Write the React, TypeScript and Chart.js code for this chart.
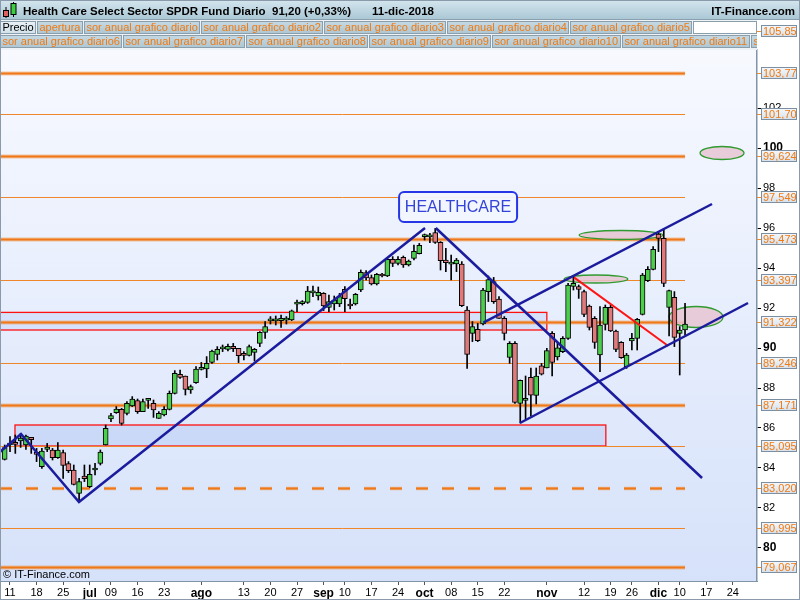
import React, { useEffect, useRef } from "react";
import { Chart, registerables } from "chart.js";

Chart.register(...registerables);

// ---------- data ----------
const FIRST_INDEX = -1; // trading-day index of first candle (8 jun 2018); 0 = 11 jun
const opens = [
  84.43, 85.15, 85.25, 85.35, 85.15, 85.53, 84.70, 84.07, 84.93, 84.90, 84.52, 84.77, 84.22, 83.90, 82.73, 83.60, 83.07, 83.90, 84.23, 85.15,
  86.45, 86.77, 86.93, 86.73, 87.10, 87.37, 86.82, 87.38, 87.23, 86.48, 86.65, 86.93, 87.73, 88.68, 88.60, 87.90, 88.27, 88.93, 88.95, 89.28,
  89.68, 89.96, 89.93, 90.08, 89.98, 89.73, 89.63, 89.78, 90.23, 90.78, 91.36, 91.36, 91.37, 91.39, 91.40, 92.19, 92.22, 92.28, 92.76, 92.60,
  92.73, 92.03, 92.20, 92.20, 92.93, 92.20, 92.20, 92.90, 93.77, 93.52, 93.20, 93.68, 93.60, 94.43, 94.23, 94.53, 94.15, 94.48, 94.72, 95.57,
  95.56, 95.77, 95.28, 94.40, 94.19, 94.20, 94.20, 91.90, 90.73, 90.93, 91.20, 92.82, 93.32, 92.45, 91.48, 89.53, 90.23, 87.23, 87.38, 88.53,
  87.63, 89.11, 89.01, 90.73, 89.55, 89.82, 90.48, 93.08, 93.07, 92.82, 92.10, 91.48, 89.65, 91.18, 92.03, 90.85, 90.28, 89.07, 90.35, 90.48,
  91.68, 93.37, 93.93, 95.70, 95.48, 92.03, 92.53, 90.73, 90.90,
];
const highs = [
  85.15, 85.57, 85.65, 85.73, 85.65, 85.53, 84.98, 84.98, 85.23, 84.98, 85.27, 84.90, 84.32, 84.15, 83.48, 84.15, 84.15, 84.23, 84.90, 86.15,
  86.73, 87.07, 86.98, 87.32, 87.57, 87.45, 87.45, 87.48, 87.40, 86.82, 87.07, 87.85, 88.87, 88.90, 88.60, 88.15, 89.07, 89.28, 89.57, 89.90,
  90.07, 90.15, 90.20, 90.23, 89.98, 89.82, 90.15, 89.98, 90.82, 91.32, 91.57, 91.60, 91.65, 91.57, 91.90, 92.40, 92.37, 93.08, 93.10, 93.05,
  92.77, 92.65, 92.60, 92.73, 93.07, 92.45, 92.73, 93.90, 93.87, 93.65, 93.73, 93.73, 94.48, 94.57, 94.57, 94.60, 94.40, 95.15, 95.23, 95.70,
  95.73, 95.98, 95.32, 94.98, 94.65, 94.48, 94.32, 92.07, 91.32, 91.23, 92.98, 93.60, 93.53, 92.57, 91.57, 90.32, 90.32, 88.40, 88.60, 89.00,
  89.00, 89.23, 89.98, 90.82, 90.23, 90.57, 93.23, 93.57, 93.15, 92.90, 92.15, 91.57, 92.07, 92.15, 92.15, 90.90, 90.32, 89.73, 90.73, 91.48,
  93.73, 94.07, 95.07, 95.82, 95.98, 92.90, 92.82, 91.07, 92.23,
];
const lows = [
  84.40, 84.82, 84.73, 85.03, 84.93, 84.73, 84.32, 83.98, 84.82, 84.40, 84.48, 83.48, 83.77, 83.15, 82.32, 83.32, 83.02, 83.65, 84.15, 85.15,
  86.32, 86.73, 86.15, 86.65, 87.07, 86.73, 86.82, 86.98, 86.53, 86.48, 86.60, 86.90, 87.70, 88.48, 87.65, 87.73, 88.23, 88.90, 88.52, 89.23,
  89.40, 89.82, 89.85, 89.82, 89.27, 89.40, 89.60, 89.35, 90.07, 90.48, 91.20, 91.15, 91.03, 91.20, 91.37, 91.82, 92.15, 92.23, 92.57, 92.40,
  91.87, 91.82, 91.90, 92.07, 91.82, 91.95, 92.15, 92.82, 93.40, 93.15, 93.15, 93.55, 93.57, 94.07, 94.15, 94.03, 94.10, 94.40, 94.70, 95.40,
  95.27, 95.23, 93.90, 93.82, 93.40, 93.82, 92.07, 88.98, 90.32, 90.32, 91.15, 92.32, 92.23, 91.48, 90.40, 89.23, 87.23, 86.25, 86.45, 86.60,
  87.20, 88.65, 89.00, 88.60, 89.40, 89.77, 90.43, 92.90, 92.48, 91.57, 90.90, 89.98, 88.82, 90.90, 90.82, 89.82, 89.48, 88.98, 89.90, 89.90,
  91.65, 93.32, 93.90, 94.82, 93.07, 90.60, 90.07, 88.65, 90.65,
];
const closes = [
  85.02, 85.20, 85.18, 85.50, 85.60, 85.42, 84.68, 84.85, 85.05, 84.52, 84.90, 84.13, 83.87, 83.18, 83.32, 83.47, 83.68, 83.95, 84.80, 85.98,
  86.62, 86.95, 86.23, 87.23, 87.45, 86.82, 87.32, 87.42, 86.90, 86.73, 86.93, 87.73, 88.73, 88.53, 87.93, 88.07, 88.95, 88.97, 89.23, 89.85,
  89.93, 89.98, 90.08, 89.97, 89.62, 89.63, 90.07, 89.93, 90.78, 91.07, 91.38, 91.38, 91.48, 91.41, 91.86, 92.21, 92.25, 92.85, 92.78, 92.78,
  92.10, 92.32, 92.40, 92.57, 92.47, 92.10, 92.68, 93.78, 93.50, 93.20, 93.68, 93.60, 94.43, 94.23, 94.43, 94.15, 94.35, 94.83, 95.13, 95.65,
  95.58, 95.28, 94.37, 94.27, 94.21, 94.40, 92.12, 89.68, 91.07, 90.37, 92.90, 93.42, 92.32, 91.48, 90.73, 90.23, 87.28, 88.38, 87.42, 87.64,
  88.60, 88.69, 89.87, 89.28, 90.01, 90.48, 93.15, 93.23, 92.93, 91.68, 91.03, 90.28, 91.15, 92.03, 90.85, 89.93, 89.52, 89.65, 90.48, 91.43,
  93.65, 93.93, 94.93, 95.48, 93.23, 92.87, 90.53, 90.90, 91.20,
];

const xTickIndex = [0, 5, 10, 15, 19, 24, 29, 36, 44, 49, 54, 59, 63, 68, 73, 78, 83, 88, 93, 101, 108, 113, 117, 122, 126, 131, 136];
const xTickLabels = ["11", "18", "25", "jul", "09", "16", "23", "ago", "13", "20", "27", "sep", "10", "17", "24", "oct", "08", "15", "22", "nov", "12", "19", "26", "dic", "10", "17", "24"];
const monthLabels = ["jul", "ago", "sep", "oct", "nov", "dic"];
const yTicks = [80, 82, 84, 86, 88, 90, 92, 94, 96, 98, 100, 102];

const levelValues = [105.85, 103.77, 101.7, 99.624, 97.549, 95.473, 93.397, 91.322, 89.246, 87.171, 85.095, 83.02, 80.995, 79.067];
const levelLabels = ["105,85", "103,77", "101,70", "99,624", "97,549", "95,473", "93,397", "91,322", "89,246", "87,171", "85,095", "83,020", "80,995", "79,067"];
const levelKinds = ["thin", "thick", "thin", "thick", "thin", "thick", "thin", "thick", "thin", "thick", "thin", "dash", "thin", "thick"];
const LEVEL_END = 127;

// drawings in (trading-day index, price)
const trendZigzag = [[-1.9, 84.8], [2.07, 85.7], [12.98, 82.3], [78.08, 96.0]];
const trendDown = [[80.1, 96.0], [130.2, 83.5]];
const channelTop = [[89.05, 91.27], [132.08, 97.2]];
const channelBottom = [[95.95, 86.25], [138.85, 92.25]];
const redTrend = [[106.1, 93.53], [123.86, 90.1]];
const zoneA = [-5, 101.0, 90.9, 91.78];
const zoneB = [0.94, 112.1, 85.1, 86.15];
const ellipseCx = [133.96, 114.96, 110.25, 129.07];
const ellipseCy = [99.75, 95.65, 93.45, 91.55];
const ellipseRx = [4.14, 7.9, 6.0, 5.08];
const ellipseRy = [0.325, 0.225, 0.2, 0.525];
const noteText = "HEALTHCARE";
const notePos = [84.3, 97.05];

const titleParts = ["Health Care Select Sector SPDR Fund", "Diario", "91,20 (+0,33%)", "11-dic-2018"];
const legendRow1 = ["Precio", "apertura", "sor anual grafico diario", "sor anual grafico diario2", "sor anual grafico diario3", "sor anual grafico diario4", "sor anual grafico diario5"];
const legendRow2 = ["sor anual grafico diario6", "sor anual grafico diario7", "sor anual grafico diario8", "sor anual grafico diario9", "sor anual grafico diario10", "sor anual grafico diario11", "sor anual grafico diario12"];

// ---------- styling ----------
const FONT = '"Liberation Sans", Arial, Helvetica, sans-serif';
const ORANGE = "#f07a12";
const NAVY = "#1b1b9e";

function drawLegendRow(ctx: CanvasRenderingContext2D, items: string[], top: number, h: number, maxX: number, first: boolean) {
  ctx.save();
  ctx.beginPath();
  ctx.rect(0, top, maxX, h);
  ctx.clip();
  ctx.font = `11px ${FONT}`;
  ctx.textBaseline = "alphabetic";
  let x = 0;
  items.forEach((label, k) => {
    const w = Math.round(ctx.measureText(label).width) + 5;
    const isPrecio = first && k === 0;
    const g = ctx.createLinearGradient(0, top, 0, top + h);
    g.addColorStop(0, isPrecio ? "#e8f1f6" : "#c6dae4");
    g.addColorStop(1, isPrecio ? "#d2e2ea" : "#adc6d2");
    ctx.fillStyle = g;
    ctx.fillRect(x, top, w, h);
    ctx.strokeStyle = "#8a9eac";
    ctx.lineWidth = 1;
    ctx.strokeRect(x + 0.5, top + 0.5, w - 1, h - 1);
    ctx.fillStyle = isPrecio ? "#000" : ORANGE;
    ctx.fillText(label, x + 2.5, top + h - 3.5);
    x += w + 1;
  });
  if (first && x < maxX) {
    ctx.fillStyle = "#ffffff";
    ctx.fillRect(x, top, maxX - x, h);
    ctx.strokeStyle = "#8a9eac";
    ctx.strokeRect(x + 0.5, top + 0.5, maxX - x - 1, h - 1);
  }
  ctx.restore();
}

const decor = {
  id: "decor",
  beforeDraw(chart: any) {
    const { ctx, chartArea: a } = chart;
    ctx.save();
    ctx.fillStyle = "#ffffff";
    ctx.fillRect(0, 0, chart.width, chart.height);
    const g = ctx.createLinearGradient(0, a.top, 0, a.bottom);
    g.addColorStop(0, "#f7f9ff");
    g.addColorStop(1, "#d6e2fa");
    ctx.fillStyle = g;
    ctx.fillRect(a.left, a.top, a.right - a.left, a.bottom - a.top);
    ctx.restore();
  },
  beforeDatasetsDraw(chart: any) {
    const { ctx, chartArea: a } = chart;
    const xs = chart.scales.x;
    const ys = chart.scales.y;
    ctx.save();
    ctx.beginPath();
    ctx.rect(a.left, a.top, a.right - a.left, a.bottom - a.top);
    ctx.clip();
    // zones
    [zoneA, zoneB].forEach((z, k) => {
      const x0 = xs.getPixelForValue(z[0]);
      const x1 = xs.getPixelForValue(z[1]);
      const y0 = ys.getPixelForValue(z[3]);
      const y1 = ys.getPixelForValue(z[2]);
      ctx.fillStyle = k === 0 ? "rgba(200,215,250,0.55)" : "rgba(200,214,248,0.85)";
      ctx.fillRect(x0, y0, x1 - x0, y1 - y0);
      ctx.strokeStyle = "#ff1010";
      ctx.lineWidth = 1.3;
      ctx.strokeRect(x0, y0, x1 - x0, y1 - y0);
    });
    // levels
    const xl0 = a.left;
    const xl1 = xs.getPixelForValue(LEVEL_END);
    levelValues.forEach((v, k) => {
      const yy = Math.round(ys.getPixelForValue(v)) + 0.5;
      const kind = levelKinds[k];
      ctx.beginPath();
      ctx.moveTo(xl0, yy);
      ctx.lineTo(xl1, yy);
      if (kind === "thin") {
        ctx.strokeStyle = "#f0862a";
        ctx.lineWidth = 1;
        ctx.stroke();
      } else if (kind === "thick") {
        ctx.strokeStyle = "rgba(240,140,50,0.45)";
        ctx.lineWidth = 4;
        ctx.stroke();
        ctx.strokeStyle = "#f07818";
        ctx.lineWidth = 2;
        ctx.stroke();
      } else {
        ctx.setLineDash([12, 14]);
        ctx.strokeStyle = "rgba(240,140,50,0.5)";
        ctx.lineWidth = 3.5;
        ctx.stroke();
        ctx.strokeStyle = "#f07818";
        ctx.lineWidth = 2;
        ctx.stroke();
        ctx.setLineDash([]);
      }
    });
    // ellipses
    ellipseCx.forEach((cx, k) => {
      const px = xs.getPixelForValue(cx);
      const py = ys.getPixelForValue(ellipseCy[k]);
      const rx = Math.abs(xs.getPixelForValue(cx + ellipseRx[k]) - px);
      const ry = Math.abs(ys.getPixelForValue(ellipseCy[k] + ellipseRy[k]) - py);
      ctx.beginPath();
      ctx.ellipse(px, py, rx, ry, 0, 0, Math.PI * 2);
      ctx.fillStyle = "rgba(230,196,210,0.85)";
      ctx.fill();
      ctx.strokeStyle = "#2f9a2f";
      ctx.lineWidth = 1.3;
      ctx.stroke();
    });
    ctx.restore();
  },
  afterDatasetsDraw(chart: any) {
    const { ctx } = chart;
    const xs = chart.scales.x;
    const ys = chart.scales.y;
    const cx = xs.getPixelForValue(notePos[0]);
    const cy = ys.getPixelForValue(notePos[1]);
    const w = 118;
    const h = 30;
    ctx.save();
    ctx.beginPath();
    (ctx as any).roundRect(cx - w / 2, cy - h / 2, w, h, 5);
    ctx.fillStyle = "rgba(242,246,255,0.95)";
    ctx.fill();
    ctx.strokeStyle = "#2636e6";
    ctx.lineWidth = 2;
    ctx.stroke();
    ctx.fillStyle = "#3444d8";
    ctx.font = `16px ${FONT}`;
    ctx.textAlign = "center";
    ctx.textBaseline = "middle";
    ctx.fillText(noteText, cx, cy + 1);
    ctx.restore();
  },
  afterDraw(chart: any) {
    const { ctx, chartArea: a } = chart;
    const ys = chart.scales.y;
    const W = chart.width;
    ctx.save();
    // copyright
    ctx.fillStyle = "#000";
    ctx.font = `11px ${FONT}`;
    ctx.textBaseline = "alphabetic";
    ctx.textAlign = "left";
    ctx.fillText("\u00A9 IT-Finance.com", 3, a.bottom - 3);
    // level labels on axis
    levelValues.forEach((v, k) => {
      const yy = Math.round(ys.getPixelForValue(v));
      ctx.strokeStyle = "#f08a2a";
      ctx.lineWidth = 1;
      ctx.beginPath();
      ctx.moveTo(a.right, yy + 0.5);
      ctx.lineTo(a.right + 5, yy + 0.5);
      ctx.stroke();
      const g = ctx.createLinearGradient(0, yy - 6, 0, yy + 6);
      g.addColorStop(0, "#f6f9fc");
      g.addColorStop(1, "#d4e0ec");
      ctx.fillStyle = g;
      ctx.fillRect(a.right + 4, yy - 6, 36, 12);
      ctx.strokeStyle = "#7d8fa2";
      ctx.strokeRect(a.right + 4.5, yy - 5.5, 35, 11);
      ctx.fillStyle = ORANGE;
      ctx.font = `11px ${FONT}`;
      ctx.textBaseline = "middle";
      ctx.fillText(levelLabels[k], a.right + 6, yy + 0.5);
    });
    // header
    const hg = ctx.createLinearGradient(0, 0, 0, 20);
    hg.addColorStop(0, "#d4e6ee");
    hg.addColorStop(1, "#a9c6d4");
    ctx.fillStyle = hg;
    ctx.fillRect(0, 0, W, 20);
    ctx.strokeStyle = "#8aa0ae";
    ctx.beginPath();
    ctx.moveTo(0, 19.5);
    ctx.lineTo(W, 19.5);
    ctx.stroke();
    // icon
    ctx.strokeStyle = "#000";
    ctx.beginPath();
    ctx.moveTo(6, 7);
    ctx.lineTo(6, 18);
    ctx.moveTo(13.5, 2);
    ctx.lineTo(13.5, 17);
    ctx.stroke();
    ctx.fillStyle = "#e06060";
    ctx.fillRect(3.5, 10.5, 5, 6);
    ctx.strokeRect(3.5, 10.5, 5, 6);
    ctx.fillStyle = "#40cc40";
    ctx.fillRect(11, 3.5, 5, 11);
    ctx.strokeRect(11, 3.5, 5, 11);
    // title
    ctx.fillStyle = "#000";
    ctx.font = `bold 11.5px ${FONT}`;
    ctx.textBaseline = "alphabetic";
    ctx.textAlign = "left";
    const tx = [23, 233, 272, 372];
    titleParts.forEach((t, k) => ctx.fillText(t, tx[k], 15));
    ctx.textAlign = "right";
    ctx.fillText("IT-Finance.com", 795, 15);
    ctx.textAlign = "left";
    // legend band
    ctx.fillStyle = "#eef3f8";
    ctx.fillRect(0, 20, a.right, 30);
    drawLegendRow(ctx, legendRow1, 21, 13, a.right, true);
    drawLegendRow(ctx, legendRow2, 35, 13, a.right, false);
    // frame
    ctx.strokeStyle = "#8a9aaa";
    ctx.lineWidth = 1;
    ctx.strokeRect(0.5, 0.5, W - 1, chart.height - 1);
    ctx.restore();
  },
};

export default function App() {
  const canvasRef = useRef<HTMLCanvasElement | null>(null);

  useEffect(() => {
    const canvas = canvasRef.current;
    if (!canvas) return;
    const idx = opens.map((_, k) => FIRST_INDEX + k);
    const bodyData = idx.map((i, k) => ({ x: i, y: [opens[k], closes[k]] }));
    const wickData = idx.map((i, k) => ({ x: i, y: [lows[k], highs[k]] }));
    const bodyColors = idx.map((_, k) => (closes[k] >= opens[k] ? "#4ccd4c" : "#e07a7a"));
    const lineDs = (pts: number[][], color: string, width: number) => ({
      type: "line" as const,
      data: pts.map(([a, b]) => ({ x: a, y: b })),
      borderColor: color,
      borderWidth: width,
      pointRadius: 0,
      fill: false,
      tension: 0,
      order: 0,
    });

    const chart = new Chart(canvas, {
      type: "bar",
      data: {
        datasets: [
          lineDs(trendZigzag, NAVY, 2.5),
          lineDs(trendDown, NAVY, 2.5),
          lineDs(channelTop, NAVY, 2.5),
          lineDs(channelBottom, NAVY, 2.5),
          lineDs(redTrend, "#ff1414", 2),
          {
            type: "bar",
            data: bodyData as any,
            backgroundColor: bodyColors,
            borderColor: "#000",
            borderWidth: 1,
            borderSkipped: false,
            barThickness: 5,
            grouped: false,
            minBarLength: 2,
            order: 1,
          } as any,
          {
            type: "bar",
            data: wickData as any,
            backgroundColor: "#000",
            borderWidth: 0,
            barThickness: 1,
            grouped: false,
            order: 2,
          } as any,
        ],
      },
      options: {
        responsive: false,
        animation: false,
        devicePixelRatio: 1,
        layout: { padding: { top: 50, left: 0, right: 0, bottom: 0 } },
        plugins: { legend: { display: false }, tooltip: { enabled: false }, title: { display: false } },
        scales: {
          x: {
            type: "linear",
            min: -1.88,
            max: 140.54,
            offset: false,
            afterBuildTicks: (s: any) => {
              s.ticks = xTickIndex.map((v) => ({ value: v }));
            },
            afterFit: (s: any) => {
              s.height = 19;
            },
            grid: { display: true, drawOnChartArea: false, drawTicks: true, tickLength: 4, color: "#555", offset: false },
            border: { display: true, color: "#8094a8" },
            ticks: {
              autoSkip: false,
              maxRotation: 0,
              minRotation: 0,
              padding: 1,
              color: "#000",
              font: (c: any) => {
                const lab = xTickLabels[c.index];
                return monthLabels.includes(lab)
                  ? { family: FONT, size: 12, weight: "bold" }
                  : { family: FONT, size: 11, weight: "normal" };
              },
              callback: (_v: any, i: number) => xTickLabels[i],
            },
          },
          y: {
            type: "linear",
            position: "right",
            min: 78.35,
            max: 104.9,
            afterBuildTicks: (s: any) => {
              s.ticks = yTicks.map((v) => ({ value: v }));
            },
            afterFit: (s: any) => {
              s.width = 43;
            },
            grid: { display: true, drawOnChartArea: false, drawTicks: true, tickLength: 4, color: "#000" },
            border: { display: true, color: "#8094a8", width: 1.5 },
            ticks: {
              padding: 2,
              color: "#000",
              font: (c: any) => {
                const v = c.tick ? c.tick.value : 0;
                return v % 10 === 0
                  ? { family: FONT, size: 12, weight: "bold" }
                  : { family: FONT, size: 11, weight: "normal" };
              },
              callback: (v: any) => String(v),
            },
          },
        },
      },
      plugins: [decor as any],
    });
    return () => chart.destroy();
  }, []);

  return (
    <div style={{ position: "fixed", left: 0, top: 0, width: 800, height: 600, background: "#fff" }}>
      <canvas ref={canvasRef} width={800} height={600} style={{ display: "block" }} />
    </div>
  );
}
